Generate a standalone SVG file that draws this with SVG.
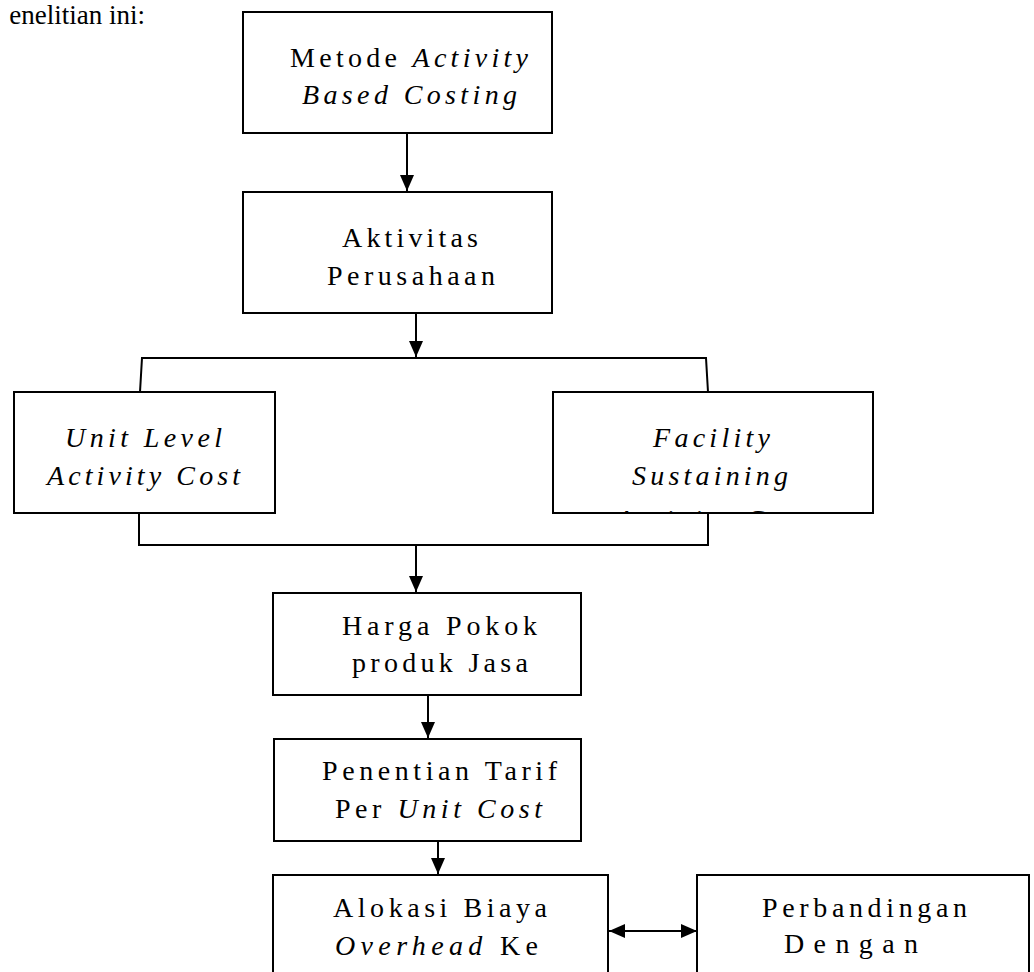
<svg xmlns="http://www.w3.org/2000/svg" width="1034" height="972" viewBox="0 0 1034 972">
<style>
.box{fill:#fff;stroke:#000;stroke-width:2}
.ln{fill:none;stroke:#000;stroke-width:2}
text{font-family:"Liberation Serif","Times New Roman",serif;font-size:28px;fill:#000}
.it{font-style:italic}
.cap{font-size:27px}
</style>
<defs>
<marker id="ah" viewBox="0 0 16 14" refX="16" refY="7" markerWidth="16" markerHeight="14" markerUnits="userSpaceOnUse" orient="auto"><path d="M0,0 L16,7 L0,14 z" fill="#000"/></marker>
<marker id="ahs" viewBox="0 0 16 14" refX="0" refY="7" markerWidth="16" markerHeight="14" markerUnits="userSpaceOnUse" orient="auto"><path d="M16,0 L0,7 L16,14 z" fill="#000"/></marker>
<clipPath id="cF"><rect x="553" y="392" width="320" height="120"/></clipPath>
</defs>
<text class="cap" x="145" y="24" text-anchor="end">enelitian ini:</text>
<g id="connectors">
<path class="ln" d="M407,133 V191" marker-end="url(#ah)"/>
<path class="ln" d="M416,313 V357" marker-end="url(#ah)"/>
<path class="ln" d="M140,392 L142,358 H706 L708,392"/>
<path class="ln" d="M139,513 V545 H708 V513"/>
<path class="ln" d="M416,545 V592" marker-end="url(#ah)"/>
<path class="ln" d="M428,695 V738" marker-end="url(#ah)"/>
<path class="ln" d="M438,841 V874" marker-end="url(#ah)"/>
<path class="ln" d="M609,931 H697" marker-start="url(#ahs)" marker-end="url(#ah)"/>
</g>
<g id="n1"><rect class="box" x="243" y="12" width="309" height="121"/>
<text x="290" y="67" textLength="238" lengthAdjust="spacing">Metode <tspan class="it">Activity</tspan></text>
<text class="it" x="302" y="104" textLength="215" lengthAdjust="spacing">Based Costing</text></g>
<g id="n2"><rect class="box" x="243" y="192" width="309" height="121"/>
<text x="342" y="247" textLength="136" lengthAdjust="spacing">Aktivitas</text>
<text x="327" y="285" textLength="168" lengthAdjust="spacing">Perusahaan</text></g>
<g id="n3"><rect class="box" x="14" y="392" width="261" height="121"/>
<text class="it" x="65" y="447" textLength="157" lengthAdjust="spacing">Unit Level</text>
<text class="it" x="47" y="485" textLength="193" lengthAdjust="spacing">Activity Cost</text></g>
<g id="n4"><rect class="box" x="553" y="392" width="320" height="121"/>
<g clip-path="url(#cF)">
<text class="it" x="653" y="447" textLength="117" lengthAdjust="spacing">Facility</text>
<text class="it" x="632" y="485" textLength="156" lengthAdjust="spacing">Sustaining</text>
<text class="it" x="616" y="529" textLength="193" lengthAdjust="spacing">Activity Cost</text></g></g>
<g id="n5"><rect class="box" x="273" y="593" width="308" height="102"/>
<text x="342" y="635" textLength="195" lengthAdjust="spacing">Harga Pokok</text>
<text x="352" y="672" textLength="176" lengthAdjust="spacing">produk Jasa</text></g>
<g id="n6"><rect class="box" x="274" y="739" width="307" height="102"/>
<text x="322" y="780" textLength="235" lengthAdjust="spacing">Penentian Tarif</text>
<text x="335" y="818" textLength="207" lengthAdjust="spacing">Per <tspan class="it">Unit Cost</tspan></text></g>
<g id="n7"><rect class="box" x="273" y="875" width="335" height="110"/>
<text x="333" y="917" textLength="214" lengthAdjust="spacing">Alokasi Biaya</text>
<text x="335" y="955" textLength="203" lengthAdjust="spacing"><tspan class="it">Overhead</tspan> Ke</text>
<text x="390" y="993" textLength="100" lengthAdjust="spacing">Produk</text></g>
<g id="n8"><rect class="box" x="697" y="875" width="332" height="110"/>
<text x="762" y="917" textLength="205" lengthAdjust="spacing">Perbandingan</text>
<text x="784" y="953" textLength="134" lengthAdjust="spacing">Dengan</text>
<text x="777" y="993" textLength="174" lengthAdjust="spacing">Tarif Lama</text></g>
</svg>
